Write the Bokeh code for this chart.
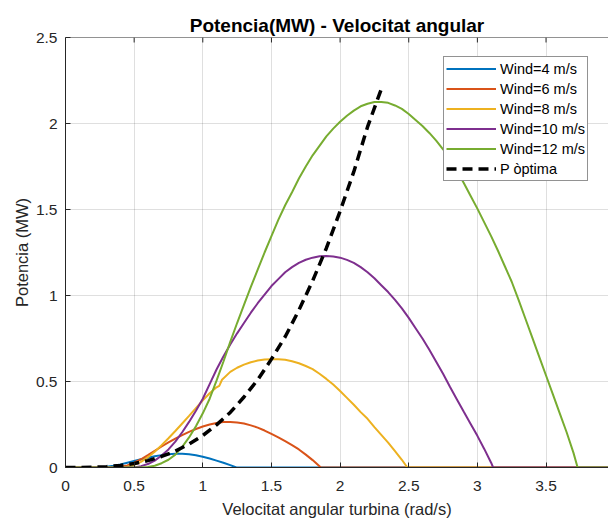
from bokeh.plotting import figure
from bokeh.models import Range1d, FixedTicker, Legend, LegendItem
from bokeh.embed import file_html
from bokeh.resources import INLINE

# ---- data ----
x_w4 = [0, 0.25, 0.3, 0.35, 0.4, 0.45, 0.5, 0.55, 0.6, 0.65, 0.7, 0.75, 0.8, 0.85, 0.9, 0.95,
        1.0, 1.05, 1.1, 1.15, 1.2, 1.245, 3.96]
p_w4 = [0, 0, 0.004, 0.01, 0.018, 0.028, 0.038, 0.048, 0.057, 0.065, 0.072, 0.077, 0.08, 0.08,
        0.077, 0.071, 0.062, 0.052, 0.04, 0.028, 0.014, 0, 0]

x_w6 = [0, 0.35, 0.4, 0.45, 0.5, 0.55, 0.6, 0.65, 0.7, 0.75, 0.8, 0.85, 0.9, 0.95, 1.0, 1.05,
        1.1, 1.15, 1.2, 1.25, 1.3, 1.35, 1.4, 1.45, 1.5, 1.55, 1.6, 1.65, 1.7, 1.75, 1.8, 1.86, 3.96]
p_w6 = [0, 0, 0.004, 0.012, 0.028, 0.048, 0.072, 0.097, 0.122, 0.146, 0.168, 0.188, 0.207, 0.224,
        0.238, 0.25, 0.259, 0.264, 0.265, 0.262, 0.256, 0.245, 0.232, 0.215, 0.195, 0.175, 0.153,
        0.13, 0.105, 0.075, 0.043, 0, 0]

x_w8 = [0, 0.42, 0.45, 0.5, 0.55, 0.6, 0.65, 0.7, 0.75, 0.8, 0.85, 0.9, 0.95, 1.0, 1.05, 1.1,
        1.12, 1.14, 1.2, 1.25, 1.3, 1.35, 1.4, 1.45, 1.5, 1.55, 1.6, 1.65, 1.7, 1.75, 1.8, 1.85,
        1.9, 1.95, 2.0, 2.05, 2.1, 2.15, 2.2, 2.25, 2.3, 2.35, 2.4, 2.45, 2.49, 3.96]
p_w8 = [0, 0, 0.004, 0.015, 0.033, 0.06, 0.092, 0.13, 0.17, 0.212, 0.256, 0.3, 0.345, 0.39,
        0.432, 0.466, 0.475, 0.51, 0.556, 0.58, 0.598, 0.612, 0.622, 0.628, 0.63, 0.63, 0.626,
        0.618, 0.606, 0.59, 0.572, 0.545, 0.515, 0.482, 0.445, 0.405, 0.365, 0.322, 0.283, 0.235,
        0.19, 0.145, 0.095, 0.045, 0, 0]

x_w10 = [0, 0.5, 0.55, 0.6, 0.65, 0.7, 0.75, 0.8, 0.85, 0.9, 0.95, 1.0, 1.05, 1.1, 1.15, 1.2,
         1.25, 1.3, 1.35, 1.4, 1.45, 1.5, 1.55, 1.6, 1.65, 1.7, 1.75, 1.8, 1.85, 1.9, 1.95, 2.0,
         2.05, 2.1, 2.15, 2.2, 2.25, 2.3, 2.35, 2.4, 2.45, 2.5, 2.55, 2.6, 2.65, 2.7, 2.75, 2.8,
         2.85, 2.9, 2.95, 3.0, 3.05, 3.1, 3.115, 3.96]
p_w10 = [0, 0, 0.008, 0.02, 0.04, 0.07, 0.105, 0.15, 0.205, 0.265, 0.33, 0.4, 0.485, 0.57, 0.645,
         0.715, 0.78, 0.84, 0.9, 0.955, 1.005, 1.055, 1.095, 1.135, 1.165, 1.19, 1.208, 1.22,
         1.228, 1.23, 1.227, 1.22, 1.207, 1.19, 1.165, 1.135, 1.1, 1.06, 1.02, 0.975, 0.925, 0.87,
         0.81, 0.75, 0.685, 0.615, 0.545, 0.47, 0.397, 0.325, 0.255, 0.184, 0.108, 0.028, 0, 0]

x_w12 = [0, 0.55, 0.6, 0.65, 0.7, 0.75, 0.8, 0.85, 0.9, 0.95, 1.0, 1.05, 1.1, 1.15, 1.2, 1.25,
         1.3, 1.35, 1.4, 1.45, 1.5, 1.55, 1.6, 1.65, 1.7, 1.75, 1.8, 1.85, 1.9, 1.95, 2.0, 2.05,
         2.1, 2.15, 2.2, 2.25, 2.3, 2.35, 2.4, 2.45, 2.5, 2.55, 2.6, 2.65, 2.7, 2.75, 2.8, 2.85,
         2.9, 2.95, 3.0, 3.05, 3.1, 3.15, 3.2, 3.25, 3.3, 3.35, 3.4, 3.45, 3.5, 3.55, 3.6, 3.65,
         3.7, 3.73, 3.96]
p_w12 = [0, 0, 0.003, 0.01, 0.025, 0.045, 0.075, 0.12, 0.175, 0.24, 0.315, 0.4, 0.505, 0.615,
         0.73, 0.84, 0.945, 1.05, 1.15, 1.25, 1.345, 1.44, 1.525, 1.6, 1.68, 1.75, 1.815, 1.87,
         1.925, 1.97, 2.01, 2.045, 2.075, 2.1, 2.115, 2.125, 2.125, 2.12, 2.105, 2.085, 2.055,
         2.02, 1.985, 1.945, 1.9, 1.85, 1.79, 1.725, 1.655, 1.58, 1.505, 1.425, 1.345, 1.26, 1.17,
         1.08, 0.975, 0.865, 0.755, 0.645, 0.535, 0.425, 0.315, 0.205, 0.085, 0, 0]

x_opt = [0, 0.1, 0.2, 0.3, 0.4, 0.5, 0.6, 0.7, 0.8, 0.9, 1.0, 1.1, 1.2, 1.3, 1.4, 1.5, 1.6,
         1.7, 1.8, 1.9, 2.0, 2.1, 2.2, 2.3]
p_opt = [0, 0.0002, 0.0015, 0.005, 0.012, 0.023, 0.04, 0.064, 0.095, 0.136, 0.186, 0.248, 0.32,
         0.41, 0.51, 0.63, 0.76, 0.915, 1.085, 1.275, 1.49, 1.72, 1.98, 2.2]

series_labels = ["Wind=4 m/s", "Wind=6 m/s", "Wind=8 m/s", "Wind=10 m/s", "Wind=12 m/s"]
opt_label = "P òptima"
series_colors = ["#0072BD", "#D95319", "#EDB120", "#7E2F8E", "#77AC30"]

x_ticks = [0, 0.5, 1, 1.5, 2, 2.5, 3, 3.5]
x_tick_labels = ["0", "0.5", "1", "1.5", "2", "2.5", "3", "3.5"]
y_ticks = [0, 0.5, 1, 1.5, 2, 2.5]
y_tick_labels = ["0", "0.5", "1", "1.5", "2", "2.5"]

title_text = "Potencia(MW) - Velocitat angular"
x_label = "Velocitat angular turbina (rad/s)"
y_label = "Potencia (MW)"

FONT = "Liberation Sans"
AX = "#262626"
Y_MAX = 2.5
FRAME_H = 431  # frame height in px (520 - 37 - 52)
TICK_PX = 5

p = figure(width=608, height=520, output_backend="svg", toolbar_location=None,
           x_range=Range1d(0, 3.955), y_range=Range1d(0, Y_MAX),
           min_border_left=65, min_border_right=0, min_border_top=37, min_border_bottom=52,
           background_fill_color="white", border_fill_color="white")
p.outline_line_color = None

p.title.text = title_text
p.title.align = "center"
p.title.text_font = FONT
p.title.text_font_size = "19px"
p.title.text_font_style = "bold"
p.title.text_color = "#000000"
p.title.standoff = 4

for ax, ticks, labels in ((p.xaxis[0], x_ticks, x_tick_labels), (p.yaxis[0], y_ticks, y_tick_labels)):
    ax.ticker = FixedTicker(ticks=ticks)
    ax.major_label_overrides = dict(zip(ticks, labels))
    ax.major_tick_in = TICK_PX
    ax.major_tick_out = 0
    ax.minor_tick_line_color = None
    ax.axis_line_color = AX
    ax.major_tick_line_color = AX
    ax.major_label_text_font = FONT
    ax.major_label_text_font_size = "15.5px"
    ax.major_label_text_color = AX
    ax.axis_label_text_font = FONT
    ax.axis_label_text_font_size = "16.5px"
    ax.axis_label_text_font_style = "normal"
    ax.axis_label_text_color = AX

p.xaxis.axis_label = x_label
p.yaxis.axis_label = y_label
p.xaxis.major_label_standoff = 13
p.xaxis.axis_label_standoff = 6
p.yaxis.major_label_standoff = 8
p.yaxis.axis_label_standoff = 2

p.grid.grid_line_color = AX
p.grid.grid_line_alpha = 0.15
p.xgrid.ticker = FixedTicker(ticks=x_ticks)
p.ygrid.ticker = FixedTicker(ticks=y_ticks)

# top frame line with inward ticks (box on)
tick_len = TICK_PX * Y_MAX / FRAME_H
p.segment(x0=[0], y0=[Y_MAX], x1=[3.955], y1=[Y_MAX], line_color=AX, line_width=1)
p.segment(x0=x_ticks, y0=[Y_MAX] * len(x_ticks), x1=x_ticks,
          y1=[Y_MAX - tick_len] * len(x_ticks), line_color=AX, line_width=1)

xs = [x_w4, x_w6, x_w8, x_w10, x_w12]
ps = [p_w4, p_w6, p_w8, p_w10, p_w12]
items = []
for xv, pv, c, lab in zip(xs, ps, series_colors, series_labels):
    r = p.line(xv, pv, line_color=c, line_width=2)
    items.append(LegendItem(label=lab, renderers=[r]))
r_opt = p.line(x_opt, p_opt, line_color="black", line_width=3.5, line_dash="10 6")
items.append(LegendItem(label=opt_label, renderers=[r_opt]))

legend = Legend(items=items, location=(378, 286), glyph_width=50, glyph_height=19,
                label_height=19, label_standoff=4, spacing=1, padding=2, margin=0,
                label_text_font=FONT, label_text_font_size="14.5px", label_text_color="#000000",
                border_line_color=AX, border_line_width=1, background_fill_color="white",
                background_fill_alpha=1.0)
p.add_layout(legend)

open("out.html", "w").write(file_html(p, INLINE))
